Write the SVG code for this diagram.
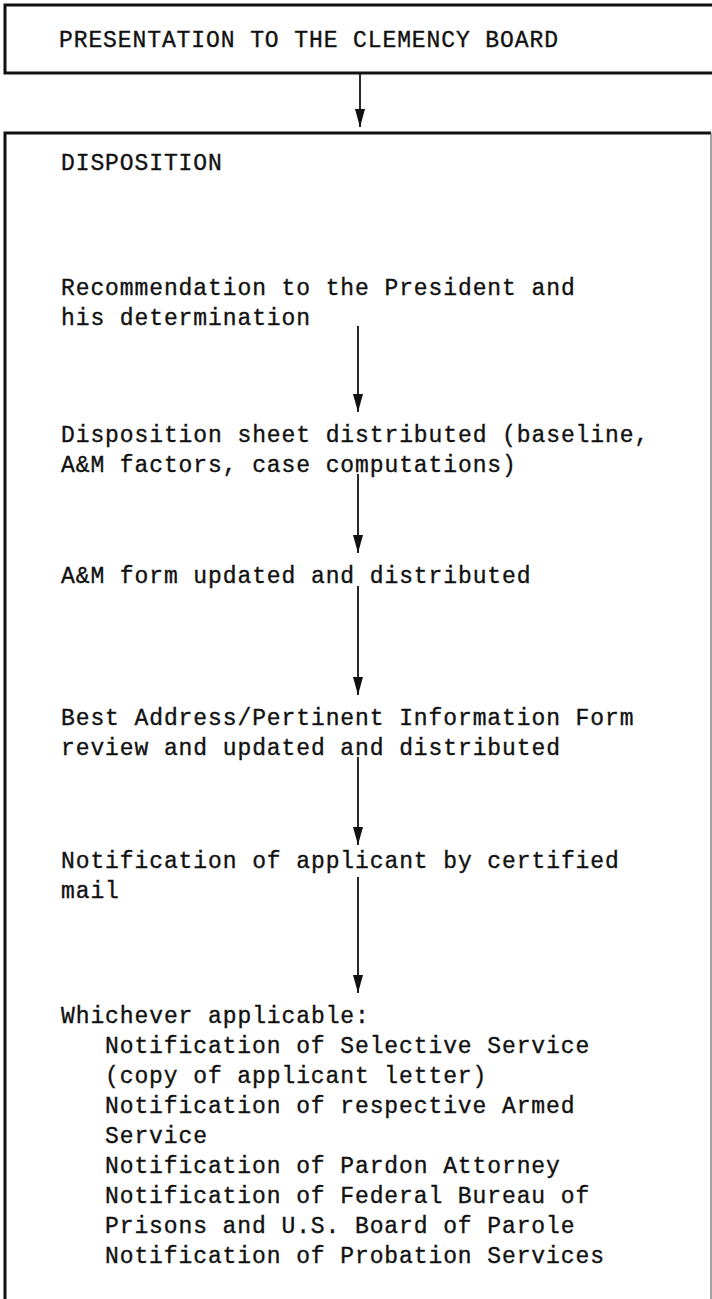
<svg xmlns="http://www.w3.org/2000/svg" width="712" height="1299" viewBox="0 0 712 1299">
<defs>
<style>
.t{font-family:"Liberation Mono","DejaVu Sans Mono",monospace;font-size:23px;letter-spacing:0.9px;fill:#111;stroke:#111;stroke-width:0.35px;}
.box{fill:none;stroke:#111;stroke-width:3;}
.edge{fill:none;stroke:#666;stroke-width:1.2;}
.conn{stroke:#111;stroke-width:1.8;fill:none;}
</style>
<marker id="ah" viewBox="0 0 18 10" refX="18" refY="5" markerWidth="18" markerHeight="10" markerUnits="userSpaceOnUse" orient="auto">
<path d="M0,0 L18,5 L0,10 Z" fill="#111"/>
</marker>
</defs>
<rect width="712" height="1299" fill="#fff"/>
<g id="node-presentation">
<path class="box" d="M712,5 H5 V73 H712"/>
<text class="t" x="59" y="47">PRESENTATION TO THE CLEMENCY BOARD</text>
</g>
<g id="node-disposition">
<path class="box" d="M5,1305 V133 H711"/>
<path class="edge" d="M711,133 V1305"/>
<text class="t" x="61" y="170">DISPOSITION</text>
</g>
<g id="node-recommendation">
<text class="t" x="61" y="295">Recommendation to the President and</text>
<text class="t" x="61" y="325">his determination</text>
</g>
<g id="node-sheet">
<text class="t" x="61" y="442">Disposition sheet distributed (baseline,</text>
<text class="t" x="61" y="472">A&amp;M factors, case computations)</text>
</g>
<g id="node-am-form">
<text class="t" x="61" y="583">A&amp;M form updated and distributed</text>
</g>
<g id="node-best-address">
<text class="t" x="61" y="725">Best Address/Pertinent Information Form</text>
<text class="t" x="61" y="755">review and updated and distributed</text>
</g>
<g id="node-notification">
<text class="t" x="61" y="868">Notification of applicant by certified</text>
<text class="t" x="61" y="898">mail</text>
</g>
<g id="node-whichever">
<text class="t" x="61" y="1023">Whichever applicable:</text>
<text class="t" x="105" y="1053">Notification of Selective Service</text>
<text class="t" x="105" y="1083">(copy of applicant letter)</text>
<text class="t" x="105" y="1113">Notification of respective Armed</text>
<text class="t" x="105" y="1143">Service</text>
<text class="t" x="105" y="1173">Notification of Pardon Attorney</text>
<text class="t" x="105" y="1203">Notification of Federal Bureau of</text>
<text class="t" x="105" y="1233">Prisons and U.S. Board of Parole</text>
<text class="t" x="105" y="1263">Notification of Probation Services</text>
</g>
<g id="connectors">
<line class="conn" x1="360" y1="73" x2="360" y2="127" marker-end="url(#ah)"/>
<line class="conn" x1="358" y1="326" x2="358" y2="412" marker-end="url(#ah)"/>
<line class="conn" x1="358" y1="474" x2="358" y2="553" marker-end="url(#ah)"/>
<line class="conn" x1="358" y1="586" x2="358" y2="695" marker-end="url(#ah)"/>
<line class="conn" x1="358" y1="757" x2="358" y2="845" marker-end="url(#ah)"/>
<line class="conn" x1="358" y1="877" x2="358" y2="993" marker-end="url(#ah)"/>
</g>
</svg>
